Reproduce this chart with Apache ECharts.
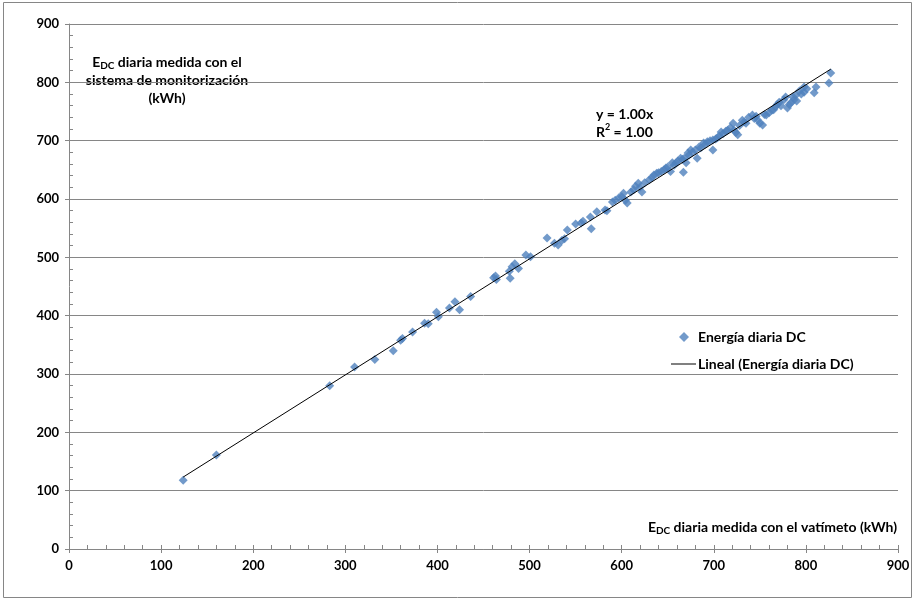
<!DOCTYPE html>
<html><head><meta charset="utf-8">
<script src="https://cdn.jsdelivr.net/npm/echarts@6/dist/echarts.min.js"></script>
<style>html,body{margin:0;padding:0;background:#fff}#c{width:920px;height:605px}</style>
</head><body><div id="c"></div>
<script>
// Energía diaria DC: x = vatímetro (kWh), y = sistema de monitorización (kWh)
const xValues = [124,160,283,310,332,352,360,362,373,386,390,399,401,413,419,424,436,461,463,464,478,479,481,484,488,496,501,519,527,531,535,538,541,550,556,558,566,567,573,582,584,590,593,597,600,602,604,606,610,613,615,618,620,622,625,630,633,635,638,640,643,646,648,650,653,655,657,659,661,664,666,667,668,670,672,673,675,677,680,682,684,686,689,691,693,696,699,699,702,704,706,708,710,713,715,718,721,722,724,726,728,731,733,735,738,742,744,746,748,750,753,755,757,760,763,765,767,769,771,773,776,778,780,782,784,786,787,789,790,793,795,798,798,801,809,811,825,827];
const yValues = [118,161,280,312,325,340,358,361,372,387,386,406,398,413,424,410,433,465,468,462,476,464,484,489,481,504,501,533,524,521,529,532,547,557,559,562,569,549,578,581,580,595,598,602,604,610,598,593,612,616,622,627,620,612,628,633,637,641,644,645,647,650,653,655,647,662,658,662,665,670,668,646,670,662,679,675,684,680,684,670,689,688,696,694,698,700,701,684,703,705,708,715,712,716,718,722,730,718,714,710,726,735,732,730,740,744,738,742,735,730,727,745,744,748,752,753,758,762,766,760,770,775,756,762,765,775,770,778,768,785,780,792,783,789,782,792,799,816];
const axisTicks = [0,100,200,300,400,500,600,700,800,900];

const points = xValues.map((x,i)=>[x,yValues[i]]);
// least-squares trendline through the origin
let sxy=0, sxx=0;
xValues.forEach((x,i)=>{sxy+=x*yValues[i]; sxx+=x*x;});
const slope = sxy/sxx;
const xMin = Math.min(...xValues), xMax = Math.max(...xValues);
const trend = [[xMin, slope*xMin],[xMax, slope*xMax]];

const FONT = 'Lato';
const gray = '#868686';
const labelStyle = {color:'#000', fontWeight:'bold', fontSize:13, fontFamily:FONT};
const titleStyle = {color:'#000', fontWeight:'bold', fontSize:14, fontFamily:FONT};
const rich = {
  e:{fontSize:14,fontWeight:'bold',fontFamily:FONT,color:'#000',lineHeight:18},
  s:{fontSize:10,fontWeight:'bold',fontFamily:FONT,color:'#000',lineHeight:18,verticalAlign:'bottom'},
  b:{fontSize:14,fontWeight:'bold',fontFamily:FONT,color:'#000',lineHeight:18},
  p:{fontSize:9,fontWeight:'bold',fontFamily:FONT,color:'#000',lineHeight:18,verticalAlign:'top'}
};
const vmin = axisTicks[0], vmax = axisTicks[axisTicks.length-1], step = axisTicks[1]-axisTicks[0];

function mainAxis(){
  return {type:'value',min:vmin,max:vmax,interval:step,
    axisLine:{show:true,lineStyle:{color:gray,width:1}},
    axisTick:{show:true,length:4,lineStyle:{color:gray}},
    axisLabel:Object.assign({margin:10},labelStyle),
    splitLine:{show:false}};
}
function innerAxis(){
  return {type:'value',min:vmin,max:vmax,interval:step,
    axisLine:{show:false},
    axisTick:{show:true,inside:true,length:4,lineStyle:{color:gray}},
    minorTick:{show:true,splitNumber:5,length:4,lineStyle:{color:gray}},
    axisLabel:{show:false},splitLine:{show:false}};
}
const xa1 = mainAxis(); xa1.position='bottom';
const xa2 = innerAxis(); xa2.position='bottom';
const ya1 = mainAxis(); ya1.position='left';
ya1.splitLine={show:true,lineStyle:{color:gray,width:1}};
const ya2 = innerAxis(); ya2.position='left';

const chart = echarts.init(document.getElementById('c'),null,{renderer:'canvas'});
chart.setOption({
  backgroundColor:'#fff',
  animation:false,
  grid:{left:69,right:22,top:24,bottom:56,containLabel:false},
  xAxis:[xa1,xa2],
  yAxis:[ya1,ya2],
  legend:[
    {left:674,top:325,itemWidth:10,itemHeight:10,
     textStyle:Object.assign({padding:[0,0,0,4]},titleStyle),
     data:[{name:'Energía diaria DC',icon:'diamond',itemStyle:{color:'#4f81bd'}}]},
    {left:666,top:352,itemWidth:25,itemHeight:1,
     textStyle:Object.assign({padding:[0,0,0,-3]},titleStyle),
     data:[{name:'Lineal (Energía diaria DC)',icon:'rect',itemStyle:{color:'#000'}}]}
  ],
  series:[
    {name:'Energía diaria DC',type:'scatter',data:points,symbol:'diamond',symbolSize:9,
     itemStyle:{color:'#4f81bd'},z:2},
    {name:'Lineal (Energía diaria DC)',type:'line',data:trend,symbol:'none',
     lineStyle:{color:'#000',width:1},itemStyle:{color:'#000'},z:3}
  ],
  graphic:[
    {type:'rect',shape:{x:3.5,y:2.5,width:908,height:595},style:{fill:'none',stroke:gray,lineWidth:1},silent:true},
    {type:'text',x:167,y:53,style:{text:'{e|E}{s|DC}{b| diaria medida con el}\n{b|sistema de monitorización}\n{b|(kWh)}',rich:rich,align:'center',verticalAlign:'top'}},
    {type:'text',x:897,y:527,style:{text:'{e|E}{s|DC}{b| diaria medida con el vatímeto (kWh)}',rich:rich,align:'right',verticalAlign:'middle'}},
    {type:'text',x:596,y:105,style:{text:'{b|y = 1.00x}\n{b|R}{p|2}{b| = 1.00}',rich:rich,align:'left',verticalAlign:'top'}}
  ]
});
</script></body></html>
